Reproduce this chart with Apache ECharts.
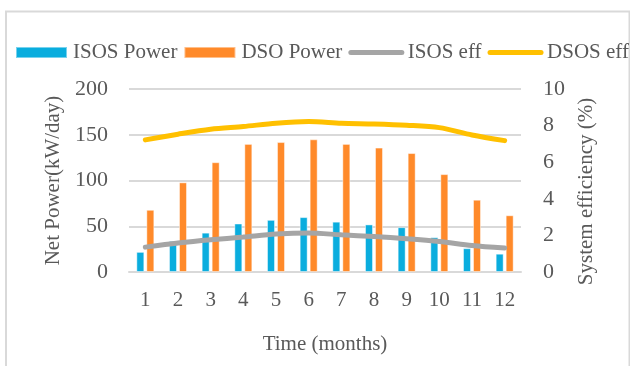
<!DOCTYPE html>
<html>
<head>
<meta charset="utf-8">
<style>
  html, body { margin: 0; padding: 0; background: #fff; }
  #chart { width: 630px; height: 366px; }
</style>
<script src="https://cdn.jsdelivr.net/npm/echarts@6/dist/echarts.min.js"></script>
</head>
<body>
<div id="chart"></div>
<script>
// Monthly net power (kW/day) and system efficiency (%)
const months = ['1', '2', '3', '4', '5', '6', '7', '8', '9', '10', '11', '12'];
const isosPower = [22, 34, 43, 53, 57, 60, 55, 52, 49, 38, 26, 20];
const dsoPower = [68, 98, 120, 140, 142, 145, 140, 136, 130, 107, 79, 62];
const isosEff = [1.36, 1.58, 1.76, 1.91, 2.07, 2.13, 2.03, 1.94, 1.82, 1.67, 1.45, 1.31];
const dsosEff = [7.22, 7.53, 7.8, 7.95, 8.13, 8.22, 8.13, 8.09, 8.02, 7.89, 7.49, 7.18];
const powerTicks = { min: 0, max: 200, interval: 50 };
const effTicks = { min: 0, max: 10, interval: 2 };

const FONT = '"Liberation Serif", "Times New Roman", serif';
const TEXT = '#595959';
const GRID = '#D9D9D9';
const BLUE = '#0AADDE';
const ORANGE = '#FF8A2A';
const GRAY = '#A5A5A5';
const GOLD = '#FFC000';

const chart = echarts.init(document.getElementById('chart'), null, { renderer: 'canvas' });

// legend entry for a line series: thick line, no marker
function lineEntry(name, color) {
  return {
    name: name,
    itemStyle: { opacity: 0 },
    lineStyle: { color: color, width: 5, cap: 'round', opacity: 1 }
  };
}

chart.setOption({
  animation: false,
  backgroundColor: '#fff',
  textStyle: { fontFamily: FONT, color: TEXT },
  graphic: [{
    type: 'rect',
    shape: { x: 6, y: 11.5, width: 623.5, height: 400 },
    style: { fill: 'none', stroke: GRID, lineWidth: 2 },
    silent: true,
    z: -1
  }],
  legend: {
    left: 10,
    top: 37,
    width: 1200,
    itemWidth: 51,
    itemHeight: 11,
    itemGap: 6,
    textStyle: { fontFamily: FONT, fontSize: 21, color: TEXT, padding: [0, 0, 0, 1] },
    data: [
      { name: 'ISOS Power', icon: 'rect' },
      { name: 'DSO Power', icon: 'rect' },
      lineEntry('ISOS eff', GRAY),
      lineEntry('DSOS eff', GOLD)
    ]
  },
  grid: { left: 129, right: 109, top: 89, bottom: 94, containLabel: false },
  xAxis: {
    type: 'category',
    data: months,
    name: 'Time (months)',
    nameLocation: 'middle',
    nameGap: 62,
    nameTextStyle: { fontFamily: FONT, fontSize: 21, color: TEXT },
    axisLine: { lineStyle: { color: GRID, width: 2 } },
    axisTick: { show: false },
    axisLabel: { fontFamily: FONT, fontSize: 21, color: TEXT, margin: 18 }
  },
  yAxis: [{
    type: 'value',
    min: powerTicks.min,
    max: powerTicks.max,
    interval: powerTicks.interval,
    name: 'Net Power(kW/day)',
    nameLocation: 'middle',
    nameRotate: 90,
    nameGap: 63,
    nameTextStyle: { fontFamily: FONT, fontSize: 21, color: TEXT },
    axisLine: { show: false },
    axisTick: { show: false },
    splitLine: { lineStyle: { color: GRID, width: 2 } },
    axisLabel: { fontFamily: FONT, fontSize: 22, color: TEXT, margin: 21 }
  }, {
    type: 'value',
    min: effTicks.min,
    max: effTicks.max,
    interval: effTicks.interval,
    name: 'System efficiency (%)',
    nameLocation: 'middle',
    nameRotate: 90,
    nameGap: 52,
    nameTextStyle: { fontFamily: FONT, fontSize: 21, color: TEXT, padding: [0, 22, 0, 0] },
    axisLine: { show: false },
    axisTick: { show: false },
    splitLine: { show: false },
    axisLabel: { fontFamily: FONT, fontSize: 22, color: TEXT, margin: 22 }
  }],
  series: [{
    name: 'ISOS Power',
    type: 'bar',
    data: isosPower,
    barWidth: 8,
    barGap: '25%',
    itemStyle: { color: BLUE, borderColor: 'rgba(255,255,255,0.45)', borderWidth: 1 }
  }, {
    name: 'DSO Power',
    type: 'bar',
    data: dsoPower,
    barWidth: 8,
    barGap: '25%',
    itemStyle: { color: ORANGE, borderColor: 'rgba(255,255,255,0.45)', borderWidth: 1 }
  }, {
    name: 'ISOS eff',
    type: 'line',
    yAxisIndex: 1,
    data: isosEff,
    smooth: 0.3,
    showSymbol: false,
    symbol: 'none',
    itemStyle: { color: GRAY },
    lineStyle: { color: GRAY, width: 5, cap: 'round' },
    z: 3
  }, {
    name: 'DSOS eff',
    type: 'line',
    yAxisIndex: 1,
    data: dsosEff,
    smooth: 0.3,
    showSymbol: false,
    symbol: 'none',
    itemStyle: { color: GOLD },
    lineStyle: { color: GOLD, width: 5, cap: 'round' },
    z: 3
  }]
});
</script>
</body>
</html>
